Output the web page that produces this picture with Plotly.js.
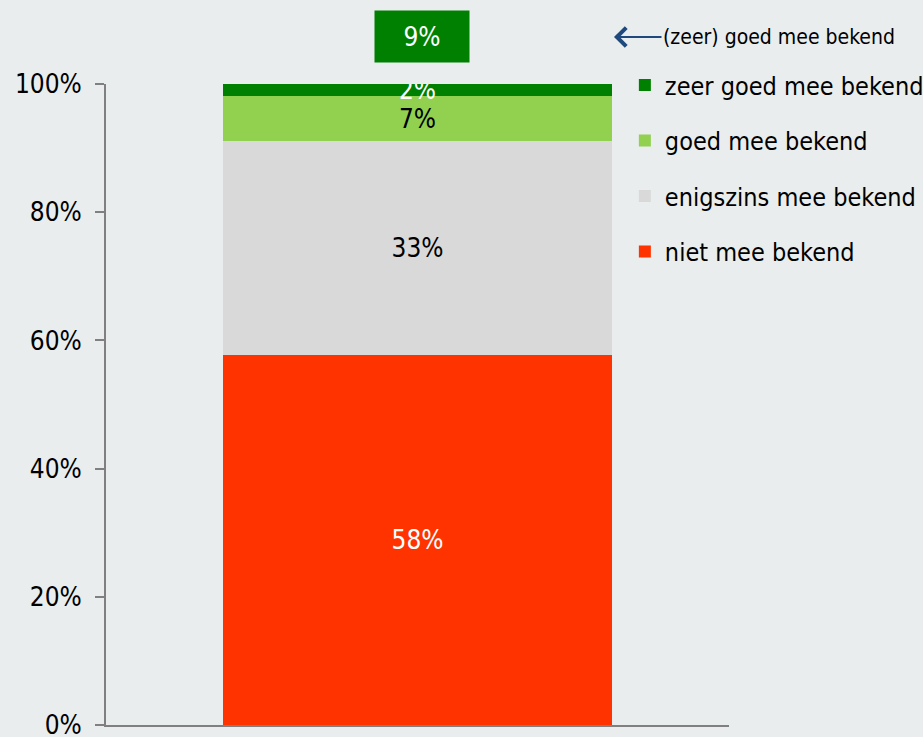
<!DOCTYPE html>
<html>
<head>
<meta charset="utf-8">
<script src="https://cdn.plot.ly/plotly-3.0.1.min.js"></script>
<style>html,body{margin:0;padding:0;background:#E9EDEE;}#chart{width:923px;height:737px;}</style>
</head>
<body>
<div id="chart"></div>
<script>
const categories = [''];
const seriesNames = ['niet mee bekend', 'enigszins mee bekend', 'goed mee bekend', 'zeer goed mee bekend'];
const niet = [57.7];
const enigszins = [33.4];
const goed = [7.0];
const zeerGoed = [1.9];
const barLabels = [['58%'], ['33%'], ['7%'], ['2%']];
const seriesColors = ['#FF3300', '#D9D9D9', '#92D050', '#008000'];
const labelColors = ['#FFFFFF', '#000000', '#000000', '#FFFFFF'];
const legendRanks = [4, 3, 2, 1];
const yTickVals = [0, 20, 40, 60, 80, 100];
const totalLabel = '9%';
const totalNote = '(zeer) goed mee bekend';

const FONT = '"DejaVu Sans Condensed", "Liberation Sans", Arial, sans-serif';
const values = [niet, enigszins, goed, zeerGoed];

const data = values.map((v, i) => ({
  type: 'bar',
  x: categories,
  y: v,
  name: seriesNames[i],
  legendgroup: 'g' + i,
  legendrank: legendRanks[i],
  marker: {color: seriesColors[i], line: {width: 0}},
  text: barLabels[i],
  texttemplate: '%{text}',
  textposition: 'inside',
  insidetextanchor: 'middle',
  constraintext: 'none',
  textangle: 0,
  textfont: {family: FONT, size: 26, color: labelColors[i]},
  hoverinfo: 'skip'
}));

const layout = {
  width: 923,
  height: 737,
  barmode: 'stack',
  bargap: 0.376,
  paper_bgcolor: '#E9EDEE',
  plot_bgcolor: '#E9EDEE',
  margin: {l: 106, r: 194, t: 84, b: 12, pad: 0, autoexpand: false},
  showlegend: true,
  font: {family: FONT, size: 24, color: '#000000'},
  xaxis: {
    type: 'category',
    showline: true, linecolor: '#808080', linewidth: 2,
    showticklabels: false, ticks: '', showgrid: false, zeroline: false,
    fixedrange: true
  },
  yaxis: {
    range: [0, 100],
    tickvals: yTickVals,
    ticktext: yTickVals.map(v => v + '%'),
    showline: true, linecolor: '#808080', linewidth: 2,
    ticks: 'outside', ticklen: 9, tickwidth: 2, tickcolor: '#808080',
    ticklabelstandoff: 8,
    ticklabeloverflow: 'allow',
    tickfont: {family: FONT, size: 26, color: '#000000'},
    showgrid: false, zeroline: false,
    fixedrange: true
  },
  legend: {
    xref: 'container', yref: 'container',
    x: 0.677, y: 0.9155, xanchor: 'left', yanchor: 'top',
    traceorder: 'grouped',
    tracegroupgap: 20,
    bgcolor: 'rgba(0,0,0,0)',
    font: {family: FONT, size: 25, color: '#000000'}
  },
  annotations: [
    {
      xref: 'paper', yref: 'paper',
      x: 0.507, y: 1.074, xanchor: 'center', yanchor: 'middle',
      text: totalLabel, showarrow: false,
      width: 94, height: 51, borderpad: 0,
      bgcolor: '#008000',
      font: {family: FONT, size: 26, color: '#FFFFFF'}
    },
    {
      xref: 'paper', yref: 'paper',
      x: 0.8154, y: 1.0733,
      text: totalNote,
      showarrow: true, ax: 165, ay: 0,
      arrowhead: 4, arrowsize: 2, arrowwidth: 1.8,
      arrowcolor: '#1F497D',
      font: {family: FONT, size: 21, color: '#000000'}
    }
  ]
};

Plotly.newPlot('chart', data, layout, {displayModeBar: false, staticPlot: true});
</script>
</body>
</html>
